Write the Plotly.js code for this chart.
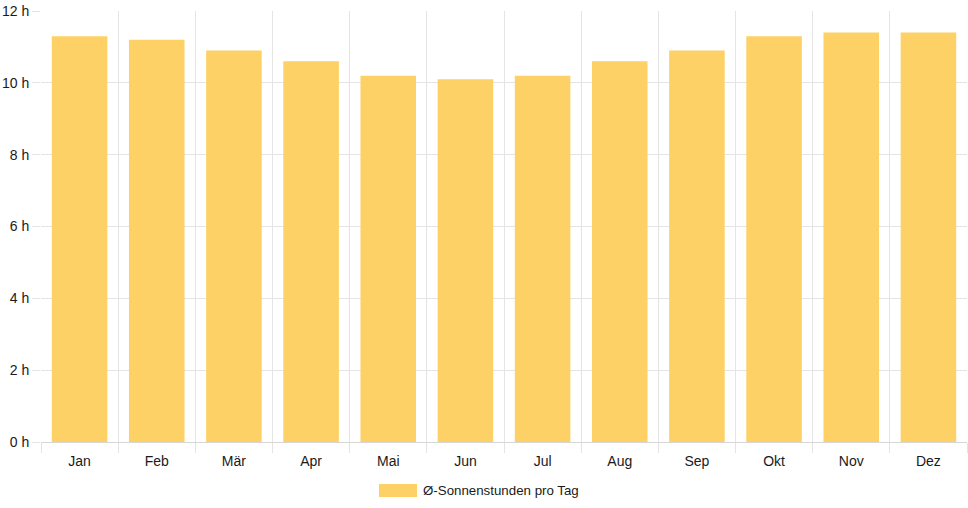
<!DOCTYPE html>
<html>
<head>
<meta charset="utf-8">
<script src="https://cdn.plot.ly/plotly-3.0.1.min.js"></script>
<style>html,body{margin:0;padding:0;background:#fff;}#chart{width:968px;height:508px;}</style>
</head>
<body>
<div id="chart"></div>
<script>
const months = ["Jan","Feb","Mär","Apr","Mai","Jun","Jul","Aug","Sep","Okt","Nov","Dez"];
const sunHours = [11.3, 11.2, 10.9, 10.6, 10.2, 10.1, 10.2, 10.6, 10.9, 11.3, 11.4, 11.4];
const seriesName = "Ø-Sonnenstunden pro Tag";
const yTickVals = [0, 2, 4, 6, 8, 10, 12];
const yTickText = yTickVals.map(v => v + " h");

const barColor = "rgb(254,209,102)";
const gridColor = "#e4e4e4";
const font = {family: "Liberation Sans, Arial, sans-serif", size: 14, color: "#1a1a1a"};
const legendFont = {family: "Liberation Sans, Arial, sans-serif", size: 13.3, color: "#1a1a1a"};

const trace = {
  type: "bar",
  x: months,
  y: sunHours,
  name: seriesName,
  marker: {color: barColor, line: {width: 0}},
  hoverinfo: "x+y",
  showlegend: false
};

const layout = {
  width: 968, height: 508,
  margin: {l: 41, r: 1, t: 11, b: 66},
  paper_bgcolor: "#fff", plot_bgcolor: "#fff",
  font: font,
  bargap: 0.28,
  showlegend: false,
  xaxis: {
    type: "category",
    tickson: "boundaries",
    ticks: "outside", ticklen: 10, tickcolor: gridColor, tickwidth: 1,
    ticklabelstandoff: 9,
    showgrid: true, gridcolor: gridColor, gridwidth: 1,
    showline: false, zeroline: false,
    tickfont: font,
    fixedrange: true
  },
  yaxis: {
    range: [0, 12],
    tickvals: yTickVals, ticktext: yTickText,
    ticks: "outside", ticklen: 8, tickcolor: gridColor, tickwidth: 1,
    showgrid: true, gridcolor: gridColor, gridwidth: 1,
    zeroline: true, zerolinecolor: "#d6d6d6", zerolinewidth: 1,
    showline: false,
    tickfont: font,
    fixedrange: true
  },
  shapes: [{
    type: "rect", xref: "paper", yref: "paper",
    x0: (379 - 41) / 926, x1: (417 - 41) / 926,
    y0: -(484 - 442) / 431, y1: -(497 - 442) / 431,
    fillcolor: barColor, line: {width: 0}
  }],
  annotations: [{
    xref: "paper", yref: "paper",
    x: (421 - 41) / 926, y: -(490.5 - 442) / 431,
    xanchor: "left", yanchor: "middle",
    text: seriesName, showarrow: false,
    font: legendFont
  }]
};

Plotly.newPlot("chart", [trace], layout, {displayModeBar: false, staticPlot: true});
</script>
</body>
</html>
